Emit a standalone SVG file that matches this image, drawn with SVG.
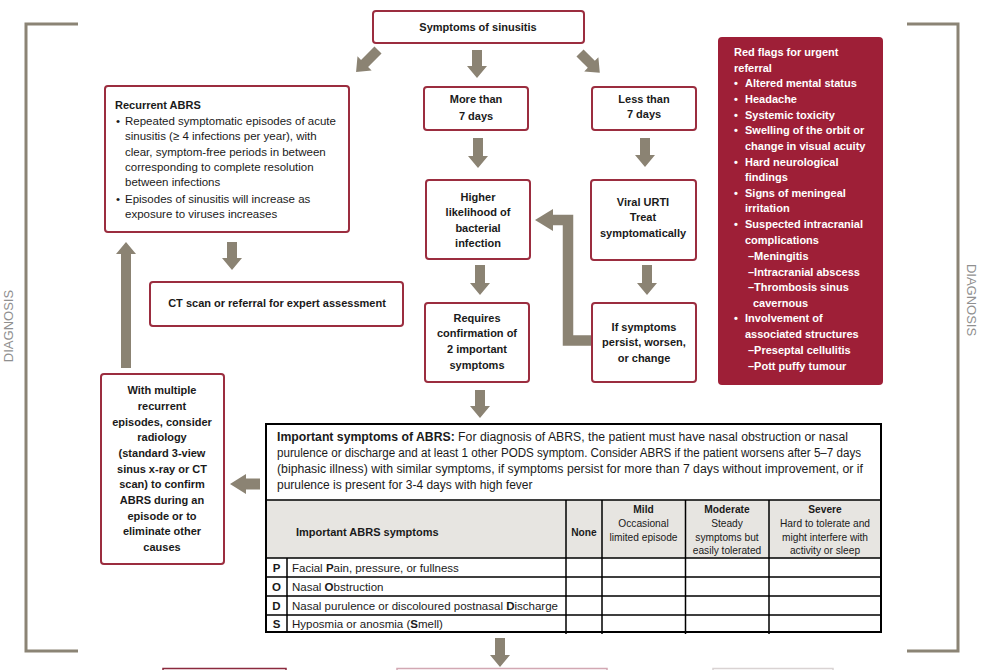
<svg xmlns="http://www.w3.org/2000/svg" width="989" height="670" viewBox="0 0 989 670">
<style>
.node{fill:#ffffff;stroke:#9b2d3f;stroke-width:2}
.arr{fill:#8b8373}
.brk{fill:none;stroke:#8b8475;stroke-width:3}
.t{font-family:"Liberation Sans",Arial,sans-serif;fill:#1a1a1a}
.b{font-weight:bold;font-size:11px}
.c{text-anchor:middle}
.n{font-size:11.5px}
.w{font-family:"Liberation Sans",Arial,sans-serif;fill:#ffffff;font-weight:bold;font-size:11px}
.dg{font-family:"Liberation Sans",Arial,sans-serif;fill:#8f8f8f;font-size:13px;text-anchor:middle}
.tl{stroke:#000000;stroke-width:1.5;fill:none}
</style>
<rect width="989" height="670" fill="#ffffff"/>

<g id="brackets">
<path class="brk" d="M78,24 H26 V651 H78"/>
<path class="brk" d="M907,24 H958 V651 H907"/>
<text class="dg" transform="translate(13,326) rotate(-90)">DIAGNOSIS</text>
<text class="dg" transform="translate(967,300) rotate(90)">DIAGNOSIS</text>
</g>

<g id="connectors">
<path class="arr" transform="translate(378,50) rotate(45)" d="M-5,0 H5 V19 H10 L0,31 L-10,19 H-5 Z"/>
<path class="arr" d="M472,50 H482 V66 H487 L477,78 L467,66 H472 Z"/>
<path class="arr" transform="translate(580,53) rotate(-45)" d="M-5,0 H5 V16 H10 L0,28 L-10,16 H-5 Z"/>
<path class="arr" d="M473,138 H483 V156 H488 L478,168 L468,156 H473 Z"/>
<path class="arr" d="M640,138 H650 V155 H655 L645,167 L635,155 H640 Z"/>
<path class="arr" d="M475,265 H485 V283 H490 L480,295 L470,283 H475 Z"/>
<path class="arr" d="M642,265 H652 V283 H657 L647,295 L637,283 H642 Z"/>
<path d="M591,340.5 H568 V220 H550" fill="none" stroke="#8b8373" stroke-width="10.5"/>
<path class="arr" d="M535,220 L553,209 V231 Z"/>
<path class="arr" d="M227,242 H237 V258 H242 L232,270 L222,258 H227 Z"/>
<path class="arr" d="M121,368 V254 H116 L126,242 L136,254 H131 V368 Z"/>
<path class="arr" d="M260,478.5 H246 V474 L230,484 L246,494 V489.5 H260 Z"/>
<path class="arr" d="M475,390 H485 V406 H490 L480,418 L470,406 H475 Z"/>
<path class="arr" d="M495,638 H505 V655 H510 L500,667 L490,655 H495 Z"/>
</g>

<g id="n-symptoms">
<rect class="node" x="373" y="11" width="211" height="32" rx="3"/>
<text class="t b c" x="478" y="31">Symptoms of sinusitis</text>
</g>

<g id="n-more7">
<rect class="node" x="424" y="87" width="104" height="43" rx="3"/>
<text class="t b c" x="476" y="103">More than</text>
<text class="t b c" x="476" y="120">7 days</text>
</g>

<g id="n-less7">
<rect class="node" x="592" y="87" width="104" height="43" rx="3"/>
<text class="t b c" x="644" y="103">Less than</text>
<text class="t b c" x="644" y="118">7 days</text>
</g>

<g id="n-higher">
<rect class="node" x="426" y="180" width="104" height="79" rx="3"/>
<text class="t b c" x="478" y="201">Higher</text>
<text class="t b c" x="478" y="216">likelihood of</text>
<text class="t b c" x="478" y="232">bacterial</text>
<text class="t b c" x="478" y="247">infection</text>
</g>

<g id="n-viral">
<rect class="node" x="591" y="180" width="105" height="80" rx="3"/>
<text class="t b c" x="643" y="206">Viral URTI</text>
<text class="t b c" x="643" y="221">Treat</text>
<text class="t b c" x="643" y="237">symptomatically</text>
</g>

<g id="n-requires">
<rect class="node" x="425" y="303" width="104" height="79" rx="3"/>
<text class="t b c" x="477" y="322">Requires</text>
<text class="t b c" x="477" y="337">confirmation of</text>
<text class="t b c" x="477" y="353">2 important</text>
<text class="t b c" x="477" y="369">symptoms</text>
</g>

<g id="n-persist">
<rect class="node" x="592" y="303" width="104" height="79" rx="3"/>
<text class="t b c" x="644" y="331">If symptoms</text>
<text class="t b c" x="644" y="346">persist, worsen,</text>
<text class="t b c" x="644" y="362">or change</text>
</g>

<g id="n-recurrent">
<rect class="node" x="105" y="86" width="244" height="146" rx="3"/>
<text class="t b" x="115" y="109">Recurrent ABRS</text>
<text class="t n" x="116" y="125">•</text>
<text class="t n" x="125" y="125">Repeated symptomatic episodes of acute</text>
<text class="t n" x="125" y="140">sinusitis (≥ 4 infections per year), with</text>
<text class="t n" x="125" y="156">clear, symptom-free periods in between</text>
<text class="t n" x="125" y="171">corresponding to complete resolution</text>
<text class="t n" x="125" y="186">between infections</text>
<text class="t n" x="116" y="203">•</text>
<text class="t n" x="125" y="203">Episodes of sinusitis will increase as</text>
<text class="t n" x="125" y="218">exposure to viruses increases</text>
</g>

<g id="n-ct">
<rect class="node" x="150" y="282" width="253" height="44" rx="3"/>
<text class="t b c" x="277" y="307">CT scan or referral for expert assessment</text>
</g>

<g id="n-multiple">
<rect class="node" x="101" y="374" width="123" height="190" rx="3"/>
<text class="t b c" x="162" y="394">With multiple</text>
<text class="t b c" x="162" y="410">recurrent</text>
<text class="t b c" x="162" y="426">episodes, consider</text>
<text class="t b c" x="162" y="441">radiology</text>
<text class="t b c" x="162" y="457">(standard 3-view</text>
<text class="t b c" x="162" y="473">sinus x-ray or CT</text>
<text class="t b c" x="162" y="488">scan) to confirm</text>
<text class="t b c" x="162" y="504">ABRS during an</text>
<text class="t b c" x="162" y="520">episode or to</text>
<text class="t b c" x="162" y="535">eliminate other</text>
<text class="t b c" x="162" y="551">causes</text>
</g>

<g id="n-redflags">
<rect x="718" y="37" width="165" height="348" rx="4" fill="#9e1f37"/>
<text class="w" x="734" y="56">Red flags for urgent</text>
<text class="w" x="734" y="72">referral</text>
<text class="w" x="734" y="87">•</text><text class="w" x="745" y="87">Altered mental status</text>
<text class="w" x="734" y="103">•</text><text class="w" x="745" y="103">Headache</text>
<text class="w" x="734" y="119">•</text><text class="w" x="745" y="119">Systemic toxicity</text>
<text class="w" x="734" y="134">•</text><text class="w" x="745" y="134">Swelling of the orbit or</text>
<text class="w" x="745" y="150">change in visual acuity</text>
<text class="w" x="734" y="166">•</text><text class="w" x="745" y="166">Hard neurological</text>
<text class="w" x="745" y="181">findings</text>
<text class="w" x="734" y="197">•</text><text class="w" x="745" y="197">Signs of meningeal</text>
<text class="w" x="745" y="212">irritation</text>
<text class="w" x="734" y="228">•</text><text class="w" x="745" y="228">Suspected intracranial</text>
<text class="w" x="745" y="244">complications</text>
<text class="w" x="748" y="260">–Meningitis</text>
<text class="w" x="748" y="276">–Intracranial abscess</text>
<text class="w" x="748" y="291">–Thrombosis sinus</text>
<text class="w" x="753" y="307">cavernous</text>
<text class="w" x="734" y="322">•</text><text class="w" x="745" y="322">Involvement of</text>
<text class="w" x="745" y="338">associated structures</text>
<text class="w" x="748" y="354">–Preseptal cellulitis</text>
<text class="w" x="748" y="370">–Pott puffy tumour</text>
</g>

<g id="n-table">
<rect x="266" y="500" width="615" height="58" fill="#e7e5e1"/>
<rect x="266" y="424" width="615" height="208" fill="none" stroke="#000000" stroke-width="2"/>
<path class="tl" d="M266,500 H881 M266,558 H881 M266,577 H881 M266,596 H881 M266,615 H881"/>
<path class="tl" d="M287,558 V632 M566,500 V634 M602,500 V634 M685.5,500 V634 M769,500 V634"/>
<text class="t" font-size="12" x="277" y="441" textLength="571" lengthAdjust="spacingAndGlyphs"><tspan font-weight="bold">Important symptoms of ABRS:</tspan> For diagnosis of ABRS, the patient must have nasal obstruction or nasal</text>
<text class="t" font-size="12" x="277" y="457" textLength="584" lengthAdjust="spacingAndGlyphs">purulence or discharge and at least 1 other PODS symptom. Consider ABRS if the patient worsens after 5–7 days</text>
<text class="t" font-size="12" x="277" y="473" textLength="586" lengthAdjust="spacingAndGlyphs">(biphasic illness) with similar symptoms, if symptoms persist for more than 7 days without improvement, or if</text>
<text class="t" font-size="12" x="277" y="489">purulence is present for 3-4 days with high fever</text>
<text class="t b" x="296" y="536">Important ABRS symptoms</text>
<text class="t c" font-size="10.2" font-weight="bold" x="584" y="536">None</text>
<text class="t c" font-size="10.2" font-weight="bold" x="643.5" y="513">Mild</text>
<text class="t c" font-size="10.2" x="643.5" y="527">Occasional</text>
<text class="t c" font-size="10.2" x="643.5" y="541">limited episode</text>
<text class="t c" font-size="10.2" font-weight="bold" x="727" y="513">Moderate</text>
<text class="t c" font-size="10.2" x="727" y="527">Steady</text>
<text class="t c" font-size="10.2" x="727" y="541">symptoms but</text>
<text class="t c" font-size="10.2" x="727" y="554">easily tolerated</text>
<text class="t c" font-size="10.2" font-weight="bold" x="825" y="513">Severe</text>
<text class="t c" font-size="10.2" x="825" y="527">Hard to tolerate and</text>
<text class="t c" font-size="10.2" x="825" y="541">might interfere with</text>
<text class="t c" font-size="10.2" x="825" y="554">activity or sleep</text>
<text class="t c" font-size="11.5" font-weight="bold" x="276.5" y="572">P</text>
<text class="t n" x="292" y="572">Facial <tspan font-weight="bold">P</tspan>ain, pressure, or fullness</text>
<text class="t c" font-size="11.5" font-weight="bold" x="276.5" y="591">O</text>
<text class="t n" x="292" y="591">Nasal <tspan font-weight="bold">O</tspan>bstruction</text>
<text class="t c" font-size="11.5" font-weight="bold" x="276.5" y="610">D</text>
<text class="t n" x="292" y="610">Nasal purulence or discoloured postnasal <tspan font-weight="bold">D</tspan>ischarge</text>
<text class="t c" font-size="11.5" font-weight="bold" x="276.5" y="628">S</text>
<text class="t n" x="292" y="628">Hyposmia or anosmia (<tspan font-weight="bold">S</tspan>mell)</text>
</g>

<g id="n-bottom-partial">
<rect x="163" y="668.5" width="123" height="12" fill="none" stroke="#8b2a3e" stroke-width="1.5"/>
<rect x="397" y="668.5" width="210" height="12" fill="none" stroke="#d2a8b3" stroke-width="1.5"/>
<rect x="713" y="668.5" width="120" height="12" fill="none" stroke="#d9d3d3" stroke-width="1.5"/>
</g>
</svg>
